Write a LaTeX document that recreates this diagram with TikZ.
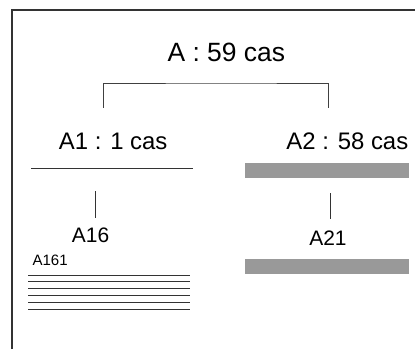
\documentclass[tikz,border=0pt]{standalone}
\usepackage{fontspec}
\setmainfont{Liberation Sans}
\tikzset{
  frameline/.style={black!80,line width=0.8pt},
  linkline/.style={black!75,line width=0.7pt},
  caseline/.style={black!80,line width=0.7pt},
  casebar/.style={fill=black!40,draw=none},
  bigtitle/.style={anchor=base,inner sep=0pt,font=\fontsize{18.8}{22}\selectfont},
  midtitle/.style={anchor=base,inner sep=0pt,font=\fontsize{17}{20}\selectfont},
  subtitle/.style={anchor=base,inner sep=0pt,font=\fontsize{14.9}{18}\selectfont},
  smalltitle/.style={anchor=base west,inner sep=0pt,font=\fontsize{10.7}{13}\selectfont}
}

\begin{document}
\begin{tikzpicture}
\useasboundingbox (0.000,0.000) rectangle (10.375,-8.725);
\draw[frameline] (0.300,-8.725) -- (0.300,-0.250) -- (10.375,-0.250);
\node[bigtitle] (a) at (5.658,-1.543) {A : 59 cas};
\coordinate (atop) at (5.658,-2.075);
\coordinate (a1top) at (2.575,-2.700);
\coordinate (a2top) at (8.200,-2.700);
\draw[linkline] (a1top) |- (atop) -| (a2top);
\node[midtitle] (a1) at (2.830,-3.733) {A1 : 1 cas};
\node[midtitle] (a2) at (8.683,-3.733) {A2 : 58 cas};
\draw[caseline] (0.775,-4.200) -- (4.825,-4.200);
\fill[casebar] (6.125,-4.075) rectangle (10.225,-4.450);
\coordinate (t1a) at (2.375,-4.775);
\coordinate (t1b) at (2.375,-5.450);
\draw[caseline] (t1a) -- (t1b);
\coordinate (t2a) at (8.250,-4.825);
\coordinate (t2b) at (8.250,-5.475);
\draw[caseline] (t2a) -- (t2b);
\node[subtitle] (a16) at (2.263,-6.058) {A16};
\node[subtitle] (a21) at (8.200,-6.125) {A21};
\node[smalltitle] (a161) at (0.808,-6.625) {A161};
\draw[caseline] (0.700,-6.875) -- (4.750,-6.875);
\draw[caseline] (0.700,-7.042) -- (4.750,-7.042);
\draw[caseline] (0.700,-7.217) -- (4.750,-7.217);
\draw[caseline] (0.700,-7.392) -- (4.750,-7.392);
\draw[caseline] (0.700,-7.567) -- (4.750,-7.567);
\draw[caseline] (0.700,-7.742) -- (4.750,-7.742);
\fill[casebar] (6.125,-6.467) rectangle (10.225,-6.842);
\end{tikzpicture}
\end{document}
